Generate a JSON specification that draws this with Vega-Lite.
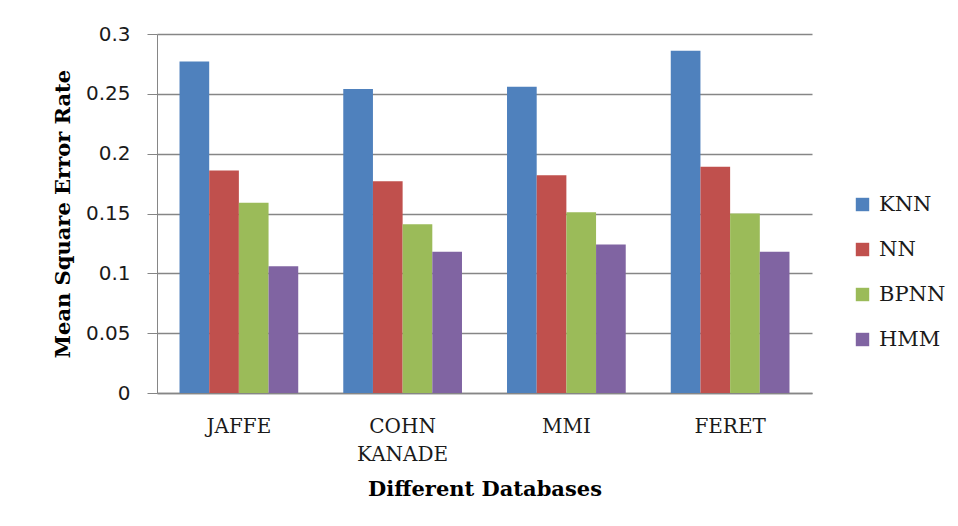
{
  "$schema": "https://vega.github.io/schema/vega-lite/v6.json",
  "autosize": {"type": "none"},
  "padding": {"left": 157, "top": 34, "right": 146, "bottom": 133},
  "width": 655,
  "height": 359,
  "background": "white",
  "data": {
    "values": [
      {"db": "JAFFE", "method": "KNN", "mse": 0.277},
      {"db": "JAFFE", "method": "NN", "mse": 0.186},
      {"db": "JAFFE", "method": "BPNN", "mse": 0.159},
      {"db": "JAFFE", "method": "HMM", "mse": 0.106},
      {"db": "COHN KANADE", "method": "KNN", "mse": 0.254},
      {"db": "COHN KANADE", "method": "NN", "mse": 0.177},
      {"db": "COHN KANADE", "method": "BPNN", "mse": 0.141},
      {"db": "COHN KANADE", "method": "HMM", "mse": 0.118},
      {"db": "MMI", "method": "KNN", "mse": 0.256},
      {"db": "MMI", "method": "NN", "mse": 0.182},
      {"db": "MMI", "method": "BPNN", "mse": 0.151},
      {"db": "MMI", "method": "HMM", "mse": 0.124},
      {"db": "FERET", "method": "KNN", "mse": 0.286},
      {"db": "FERET", "method": "NN", "mse": 0.189},
      {"db": "FERET", "method": "BPNN", "mse": 0.150},
      {"db": "FERET", "method": "HMM", "mse": 0.118}
    ]
  },
  "mark": {"type": "bar"},
  "encoding": {
    "x": {
      "field": "db",
      "type": "nominal",
      "sort": ["JAFFE", "COHN KANADE", "MMI", "FERET"],
      "scale": {"paddingInner": 0.275, "paddingOuter": 0.1375},
      "axis": {
        "title": "Different Databases",
        "labelAngle": 0,
        "labelExpr": "split(datum.label, ' ')",
        "labelLineHeight": 28,
        "labelFont": "DejaVu Serif",
        "labelFontSize": 20,
        "labelColor": "#1a1a1a",
        "labelPadding": 23,
        "ticks": false,
        "tickSize": 0,
        "domainColor": "#868686",
        "domainWidth": 1.5,
        "titleFont": "DejaVu Serif",
        "titleFontWeight": "bold",
        "titleFontSize": 21,
        "titleColor": "#000000",
        "titlePadding": 14
      }
    },
    "xOffset": {
      "field": "method",
      "type": "nominal",
      "sort": ["KNN", "NN", "BPNN", "HMM"],
      "scale": {"paddingInner": 0, "paddingOuter": 0}
    },
    "y": {
      "field": "mse",
      "type": "quantitative",
      "scale": {"domain": [0, 0.3], "nice": false},
      "axis": {
        "title": "Mean Square Error Rate",
        "values": [0, 0.05, 0.1, 0.15, 0.2, 0.25, 0.3],
        "labelExpr": "datum.value == 0 ? '0' : format(datum.value, '.2~f')",
        "labelFont": "DejaVu Sans",
        "labelFontSize": 20,
        "labelColor": "#1a1a1a",
        "labelPadding": 17,
        "tickSize": 10,
        "tickColor": "#868686",
        "domainColor": "#868686",
        "grid": true,
        "gridColor": "#868686",
        "gridWidth": 1.3,
        "titleFont": "DejaVu Serif",
        "titleFontWeight": "bold",
        "titleFontSize": 21,
        "titleColor": "#000000",
        "titlePadding": 12
      }
    },
    "color": {
      "field": "method",
      "type": "nominal",
      "sort": ["KNN", "NN", "BPNN", "HMM"],
      "scale": {
        "domain": ["KNN", "NN", "BPNN", "HMM"],
        "range": ["#4F81BD", "#C0504D", "#9BBB59", "#8064A2"]
      },
      "legend": {
        "title": null,
        "orient": "none",
        "legendX": 695,
        "legendY": 160,
        "padding": 0,
        "symbolType": "square",
        "symbolSize": 180,
        "symbolStrokeWidth": 0,
        "rowPadding": 23,
        "labelOffset": 6,
        "labelFont": "DejaVu Serif",
        "labelFontSize": 21,
        "labelColor": "#1a1a1a"
      }
    }
  },
  "config": {
    "view": {"stroke": null}
  }
}
